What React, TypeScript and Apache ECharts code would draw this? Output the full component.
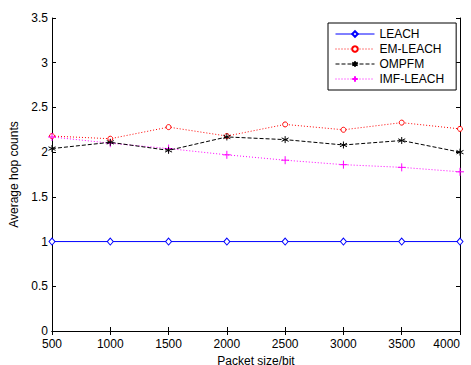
import React, { useEffect, useRef } from "react";
import * as echarts from "echarts";

const packetSizes = [500, 1000, 1500, 2000, 2500, 3000, 3500, 4000];
const leach = [1, 1, 1, 1, 1, 1, 1, 1];
const emLeach = [2.18, 2.15, 2.28, 2.18, 2.31, 2.25, 2.33, 2.26];
const ompfm = [2.04, 2.11, 2.02, 2.17, 2.14, 2.08, 2.13, 2.0];
const imfLeach = [2.17, 2.1, 2.04, 1.97, 1.91, 1.86, 1.83, 1.78];

const FONT = "Liberation Sans, Arial, sans-serif";
const ASTERISK = "path://M0,-1L0,1M-0.87,-0.5L0.87,0.5M-0.87,0.5L0.87,-0.5";
const PLUS = "path://M0,-1L0,1M-1,0L1,0";

function pairs(vals: number[]) {
  return packetSizes.map((x, i) => [x, vals[i]]);
}

export default function App() {
  const ref = useRef<HTMLDivElement>(null);
  useEffect(() => {
    if (!ref.current) return;
    const chart = echarts.init(ref.current, null, { renderer: "svg" });
    const axisLine = { show: true, lineStyle: { color: "#000", width: 1 } };
    const tick = { show: true, inside: true, length: 4, lineStyle: { color: "#000" } };
    chart.setOption({
      animation: false,
      backgroundColor: "#fff",
      grid: {
        left: 52,
        right: 11,
        top: 18,
        bottom: 34,
        show: false,
        containLabel: false,
        outerBoundsMode: "none",
      },
      legend: {
        orient: "vertical",
        left: 328,
        top: 23,
        width: 129,
        itemWidth: 39,
        itemHeight: 7,
        itemGap: 3,
        padding: [5, 12, 5, 7],
        borderColor: "#000",
        borderWidth: 1,
        backgroundColor: "#fff",
        lineStyle: { width: 1 },
        textStyle: { fontFamily: FONT, fontSize: 12, color: "#000", padding: [0, 0, 0, 0] },
        data: ["LEACH", "EM-LEACH", "OMPFM", "IMF-LEACH"],
      },
      xAxis: [
        {
          type: "value",
          min: 500,
          max: 4000,
          interval: 500,
          name: "Packet size/bit",
          nameLocation: "middle",
          nameGap: 17,
          nameTextStyle: { fontFamily: FONT, fontSize: 12, lineHeight: 12, color: "#000" },
          axisLine,
          axisTick: tick,
          axisLabel: {
            fontFamily: FONT,
            fontSize: 12,
            lineHeight: 12,
            color: "#000",
            margin: 7,
            alignMaxLabel: "right",
            formatter: (v: number) => String(v),
          },
          splitLine: { show: false },
        },
        {
          type: "value",
          position: "top",
          min: 500,
          max: 4000,
          interval: 500,
          axisLine,
          axisTick: tick,
          axisLabel: { show: false },
          splitLine: { show: false },
        },
      ],
      yAxis: [
        {
          type: "value",
          min: 0,
          max: 3.5,
          interval: 0.5,
          name: "Average hop counts",
          nameLocation: "middle",
          nameGap: 28,
          nameTextStyle: { fontFamily: FONT, fontSize: 12, color: "#000" },
          axisLine,
          axisTick: tick,
          axisLabel: { fontFamily: FONT, fontSize: 12, lineHeight: 10, color: "#000", margin: 4 },
          splitLine: { show: false },
        },
        {
          type: "value",
          position: "right",
          min: 0,
          max: 3.5,
          interval: 0.5,
          axisLine,
          axisTick: tick,
          axisLabel: { show: false },
          splitLine: { show: false },
        },
      ],
      series: [
        {
          name: "LEACH",
          type: "line",
          data: pairs(leach),
          symbol: "diamond",
          symbolSize: [6, 7],
          showAllSymbol: true,
          lineStyle: { color: "#0000ff", width: 1, type: "solid" },
          itemStyle: { color: "#fff", borderColor: "#0000ff", borderWidth: 1 },
          z: 2,
        },
        {
          name: "EM-LEACH",
          type: "line",
          data: pairs(emLeach),
          symbol: "circle",
          symbolSize: 5,
          lineStyle: { color: "#ff0000", width: 1, type: [1, 2] },
          itemStyle: { color: "#fff", borderColor: "#ff0000", borderWidth: 1 },
          z: 3,
        },
        {
          name: "OMPFM",
          type: "line",
          data: pairs(ompfm),
          symbol: ASTERISK,
          symbolSize: 7,
          lineStyle: { color: "#000", width: 1, type: [4, 2] },
          itemStyle: { color: "transparent", borderColor: "#000", borderWidth: 1 },
          z: 4,
        },
        {
          name: "IMF-LEACH",
          type: "line",
          data: pairs(imfLeach),
          symbol: PLUS,
          symbolSize: 8,
          lineStyle: { color: "#ff00ff", width: 1, type: [1, 2] },
          itemStyle: { color: "transparent", borderColor: "#ff00ff", borderWidth: 1 },
          z: 3,
        },
      ],
    });
    return () => chart.dispose();
  }, []);
  return <div ref={ref} style={{ width: 471, height: 365, position: "absolute", left: 0, top: 0 }} />;
}
